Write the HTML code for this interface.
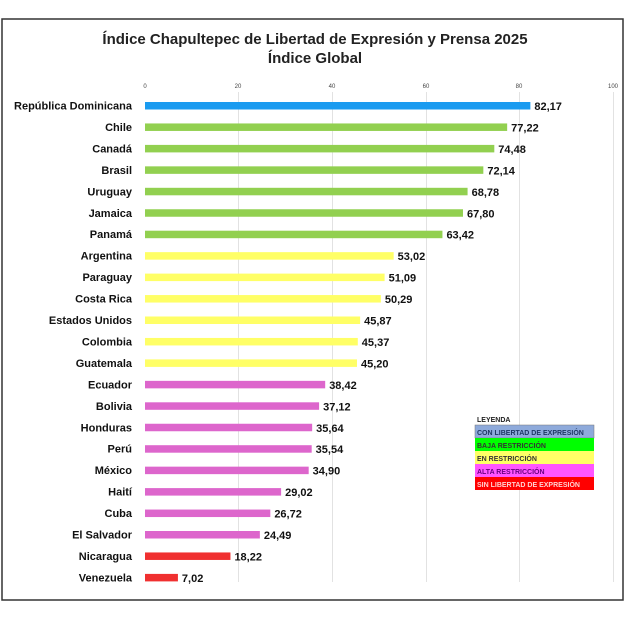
<!DOCTYPE html>
<html><head><meta charset="utf-8"><style>
body{margin:0;background:#fff;width:630px;height:630px;overflow:hidden}
svg{display:block;font-family:"Liberation Sans",sans-serif}
</style></head><body>
<svg width="630" height="630" xmlns="http://www.w3.org/2000/svg">
<rect x="2" y="19" width="621" height="581" fill="#fff" stroke="#333" stroke-width="1.5"/>
<text x="315" y="44" text-anchor="middle" font-size="15" font-weight="bold" fill="#222">Índice Chapultepec de Libertad de Expresión y Prensa 2025</text>
<text x="315" y="63" text-anchor="middle" font-size="15" font-weight="bold" fill="#222">Índice Global</text>
<g stroke="#e2e2e2" stroke-width="1">
<line x1="238.5" y1="92" x2="238.5" y2="582"/><line x1="332.5" y1="92" x2="332.5" y2="582"/><line x1="426.5" y1="92" x2="426.5" y2="582"/><line x1="519.5" y1="92" x2="519.5" y2="582"/><line x1="613.5" y1="92" x2="613.5" y2="582"/>
</g>
<g font-size="6" fill="#444" text-anchor="middle">
<text x="145" y="88">0</text><text x="238" y="88">20</text><text x="332" y="88">40</text><text x="426" y="88">60</text><text x="519" y="88">80</text><text x="613" y="88">100</text>
</g>
<g id="bars" font-size="11" font-weight="bold" fill="#111"></g>
<g font-size="7" font-weight="bold">
<text x="477" y="422" fill="#222">LEYENDA</text>
<rect x="475" y="425" width="119" height="13" fill="#8eaadb" stroke="#777" stroke-width="0.5"/>
<text x="477" y="435" fill="#1f3864">CON LIBERTAD DE EXPRESIÓN</text>
<rect x="475" y="438" width="119" height="13" fill="#00ff00"/>
<text x="477" y="448" fill="#333">BAJA RESTRICCIÓN</text>
<rect x="475" y="451" width="119" height="13" fill="#ffff66"/>
<text x="477" y="461" fill="#333">EN RESTRICCIÓN</text>
<rect x="475" y="464" width="119" height="13" fill="#ff55ff"/>
<text x="477" y="474" fill="#6a0080">ALTA RESTRICCIÓN</text>
<rect x="475" y="477" width="119" height="13" fill="#ff0000"/>
<text x="477" y="487" fill="#ffd0d0">SIN LIBERTAD DE EXPRESIÓN</text>
</g>
</svg>
<script>
var d=[["República Dominicana",82.17,"#1a9bf0"],["Chile",77.22,"#92d050"],["Canadá",74.48,"#92d050"],["Brasil",72.14,"#92d050"],["Uruguay",68.78,"#92d050"],["Jamaica",67.80,"#92d050"],["Panamá",63.42,"#92d050"],["Argentina",53.02,"#ffff66"],["Paraguay",51.09,"#ffff66"],["Costa Rica",50.29,"#ffff66"],["Estados Unidos",45.87,"#ffff66"],["Colombia",45.37,"#ffff66"],["Guatemala",45.20,"#ffff66"],["Ecuador",38.42,"#dd66cc"],["Bolivia",37.12,"#dd66cc"],["Honduras",35.64,"#dd66cc"],["Perú",35.54,"#dd66cc"],["México",34.90,"#dd66cc"],["Haití",29.02,"#dd66cc"],["Cuba",26.72,"#dd66cc"],["El Salvador",24.49,"#dd66cc"],["Nicaragua",18.22,"#f03030"],["Venezuela",7.02,"#f03030"]];
var g=document.getElementById("bars"),s="",ns="http://www.w3.org/2000/svg";
d.forEach(function(r,i){var y=105.5+i*21.45,w=r[1]*4.69;
s+='<text x="132" y="'+(y+4)+'" text-anchor="end">'+r[0]+'</text>';
s+='<rect x="145" y="'+(y-3.5)+'" width="'+w+'" height="7.5" fill="'+r[2]+'"/>';
s+='<text x="'+(149+w)+'" y="'+(y+4.5)+'">'+r[1].toFixed(2).replace(".",",")+'</text>';});
g.innerHTML=s;
</script>
</body></html>
